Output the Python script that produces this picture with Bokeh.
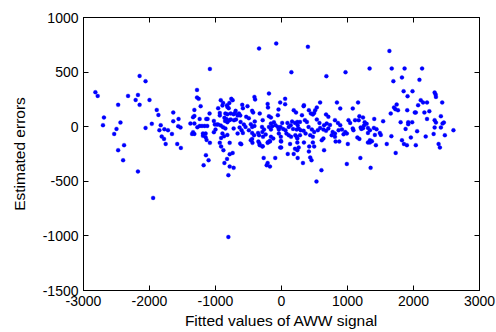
from bokeh.plotting import figure
from bokeh.models import LinearAxis, FixedTicker, Range1d, ColumnDataSource
from bokeh.embed import file_html
from bokeh.resources import INLINE

# Fitted values of AWW signal (x) and estimated errors (y)
fitted = [
    -2150, -2060, -2820, -2785, -2325, -2175, -2210, -2000, -2475, -2150,
    -1890, -1865, -1640, -2690, -1560, -1640, -2705, -2440, -1965, -1830,
    -2060, -2500, -1565, -1530, -1775, -1720, -1850, -2535, -1660, -1815,
    -1780, -1755, -1580, -1525, -2385, -2475, -2400, -2175, -1945, -805,
    -1280, -1280, -1255, -1225, -1320, -1320, -1340, -1380, -1320, -1340,
    -1355, -1320, -1240, -1205, -1165, -1125, -1240, -1140, -1120, -1090,
    -1025, -1010, -980, -960, -1025, -1000, -1190, -1150, -1190, -1150,
    -1135, -1275, -960, -920, -935, -935, -885, -895, -825, -820,
    -790, -760, -740, -800, -850, -820, -770, -725, -705, -695,
    -665, -865, -835, -855, -820, -790, -770, -720, -690, -920,
    -885, -850, -895, -870, -820, -725, -665, -635, -625, -915,
    -1180, -1145, -1105, -1085, -935, -915, -880, -865, -825, -805,
    -785, -785, -740, -785, -725, -610, -440, -350, -330, -290,
    -270, -225, -210, -175, -210, -175, -95, -20, -5, -5,
    95, 130, 185, 205, 240, 260, 240, 245, 325, 340,
    415, 435, 455, 420, 475, 495, 605, 530, 645, 820,
    875, 990, 1005, 1195, 1310, 1340, 1370, 1350, 1430, 1595,
    1730, 1855, 1900, 2035, 2380, 2400, 1825, -190, -410, -400,
    -595, -585, -515, -445, -430, -330, -645, -625, -535, -495,
    -210, -205, -20, 55, 55, -45, -55, -190, -160, 185,
    220, -285, -405, -115, -160, -90, 10, 90, 160, 205,
    -620, -570, -545, -465, -445, -410, -295, -265, -290, -190,
    -160, -140, -55, -40, -15, 25, 60, 110, 140, 175,
    230, 245, -495, -445, -415, -605, -585, -355, -340, -280,
    -240, -160, -125, -40, -10, -10, 75, 110, 145, 210,
    240, -445, -465, -180, -205, -335, -285, -340, -80, -1085,
    400, 150, 680, 970, 585, 840, 340, 335, 535, 510,
    415, 445, 475, 495, 890, 1080, 310, 675, 710, 240,
    280, 355, 385, 535, 575, 645, 685, 735, 810, 855,
    890, 1015, 1040, 1115, 260, 290, 335, 410, 460, 495,
    550, 585, 635, 675, 710, 775, 810, 865, 915, 965,
    990, 1080, 1090, 280, 365, 435, 475, 610, 635, 760,
    810, 940, 230, 1335, 1635, 1670, 1865, 1825, 1695, 1850,
    1985, 1910, 1160, 1745, 1705, 1725, 1765, 1655, 1905, 2020,
    1180, 1235, 1170, 1405, 1540, 1260, 1290, 1250, 1200, 1210,
    1235, 1310, 1340, 1400, 1440, 1805, 1920, 1980, 1920, 1880,
    1310, 1415, 1490, 1505, 1150, 1180, 1665, 1960, 1340, 2130,
    2090, 2320, 2335, 2340, 2110, 2145, 2205, 2070, 2435, 2035,
    2165, 2240, 2415, 2205, 2320, 2340, 2440, 2460, 2320, 2415,
    2605, 2055, 2305, 2475, 2185,
]
errors = [
    465, 417, 316, 282, 282, 291, 245, 245, 200, 200,
    154, 108, 130, 84, 71, 50, 14, 38, 26, 14,
    -11, -20, 5, -7, -23, -32, -32, -66, -66, -90,
    -112, -158, -158, -194, -169, -215, -307, -410, -652, -1010,
    337, 267, 255, 188, 154, 99, 87, 29, 29, -50,
    -66, -66, 7, 7, 7, 7, 71, 71, 71, 121,
    53, 20, 20, 20, -50, -26, -62, -62, -84, -96,
    -121, -5, 169, 243, 126, 103, 218, 194, 197, 181,
    218, 255, 243, 169, 121, 114, 121, 114, 126, 145,
    103, 81, 71, 53, 41, 60, 66, 60, 66, 11,
    -5, -16, -62, -87, -75, -16, -62, -7, -154, -103,
    -353, -261, -307, -148, -148, -181, -215, -332, -295, -444,
    -365, -252, -240, -148, -377, -160, -148, -136, -169, -181,
    -286, -353, -332, -365, -148, -136, -286, -191, -136, -191,
    -249, -158, -249, -203, -215, -191, -145, -286, -332, -145,
    -227, -282, -307, -181, -145, -181, -398, -502, -215, -136,
    -136, -341, -158, -286, -145, -145, -133, -377, -169, -158,
    -240, -158, -169, -169, -158, -191, -124, 304, 273, 249,
    200, 169, 188, 145, 130, 121, 121, 103, 90, 78,
    209, 176, 222, 255, 206, 158, 105, 96, 84, 151,
    130, 60, 48, 41, 29, 14, 35, 35, 48, 35,
    44, 20, -2, 23, -2, 7, -2, -26, -48, -2,
    -26, 5, -2, -26, -2, -20, -32, -2, 14, -20,
    -26, 14, -32, -57, -78, -32, -57, -57, -78, -93,
    -71, -93, -108, -62, -93, -130, -62, -78, -93, -78,
    -108, -112, -124, -130, -142, -154, -179, 716, 762, 529,
    731, 499, 463, 499, 222, 222, 197, 188, 176, 151,
    151, 121, 112, 126, 167, 167, 105, 112, 90, 44,
    44, 60, 44, 66, 35, 14, 29, 16, 60, 35,
    14, 60, 35, 60, -16, -32, -38, -2, -26, -48,
    -32, -11, -26, -38, -16, -48, -62, -32, -26, -48,
    -62, -16, -32, -78, -62, -78, -93, -124, -108, -78,
    -93, -69, -93, 533, 694, 533, 533, 451, 417, 325,
    325, 279, 222, 203, 176, 160, 151, 121, 151, 130,
    96, 84, 60, 71, 50, 41, 26, 11, -7, -20,
    -14, -11, -32, -11, -23, 41, 41, 41, 23, -20,
    -57, -75, -57, -75, -99, -112, -87, -99, -124, 533,
    429, 313, 295, 273, 243, 222, 222, 197, 222, 130,
    130, 142, 96, 71, 60, 38, 29, 38, -7, -7,
    -32, -41, -66, -78, -90,
]

x_ticks = [-3000, -2000, -1000, 0, 1000, 2000, 3000]
y_ticks = [-1500, -1000, -500, 0, 500, 1000]
x_title = "Fitted values of AWW signal"
y_title = "Estimated errors"

source = ColumnDataSource(data=dict(x=fitted, y=errors))

p = figure(width=496, height=332, output_backend="svg", toolbar_location=None,
           x_range=Range1d(-3000, 3000), y_range=Range1d(-1500, 1000),
           x_axis_location=None, y_axis_location=None,
           min_border_left=83, min_border_right=17, min_border_top=17,
           min_border_bottom=42)
p.grid.visible = False
p.outline_line_color = "black"
p.outline_line_width = 1
p.background_fill_color = "white"
p.border_fill_color = "white"

FONT = "Liberation Sans"


def make_axis(ticks, show):
    ax = LinearAxis(ticker=FixedTicker(ticks=ticks))
    ax.major_tick_in = 5
    ax.major_tick_out = 0
    ax.minor_tick_line_color = None
    ax.axis_line_color = "black"
    ax.major_tick_line_color = "black"
    ax.major_label_text_font = FONT
    if show:
        ax.major_label_text_color = "black"
        ax.major_label_text_font_size = "14px"
        ax.major_label_standoff = 5
        ax.major_label_overrides = {t: str(t) for t in ticks}
    else:
        # tick marks only, as on MATLAB's boxed axes
        ax.major_label_text_color = None
        ax.major_label_text_font_size = "1px"
        ax.major_label_standoff = 0
    ax.axis_label_text_font = FONT
    ax.axis_label_text_font_style = "normal"
    ax.axis_label_text_font_size = "15.5px"
    ax.axis_label_text_color = "black"
    return ax


bottom = make_axis(x_ticks, True)
bottom.axis_label = x_title
bottom.axis_label_standoff = 3
left = make_axis(y_ticks, True)
left.axis_label = y_title
left.axis_label_standoff = 12
top = make_axis(x_ticks, False)
right = make_axis(y_ticks, False)

p.add_layout(bottom, "below")
p.add_layout(left, "left")
p.add_layout(top, "above")
p.add_layout(right, "right")

p.scatter("x", "y", source=source, size=4, fill_color="#0000ff",
          line_color="#0000ff", line_width=0.3)

open("out.html", "w").write(file_html(p, INLINE))
